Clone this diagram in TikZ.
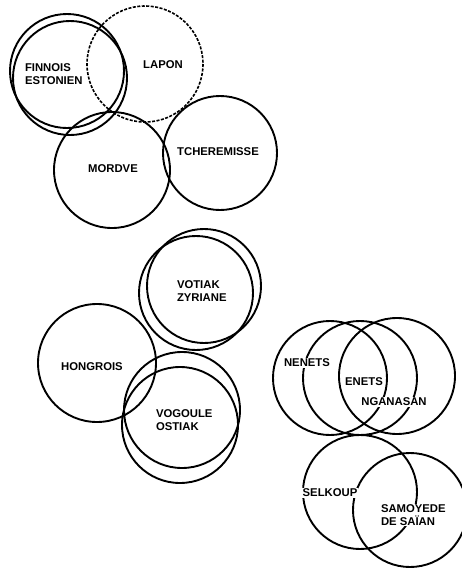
\documentclass[tikz,border=0pt]{standalone}
\usepackage{fontspec}
\setmainfont{Liberation Sans}

\tikzset{
  lang/.style={draw=black, line width=1.9pt},
  langdash/.style={lang, line width=1.6pt, dash pattern=on 3pt off 1.5pt},
  tag/.style={font=\bfseries\fontsize{11.3}{12.5}\selectfont, fill=white, inner sep=0.8pt},
  tagl/.style={tag, align=left, anchor=west},
}

\begin{document}
\begin{tikzpicture}[x=1pt, y=-1pt]
  \useasboundingbox (0, 0) rectangle (462, 568);

  % Finnois, Lapon, Mordve, Tcheremisse
  \draw[lang] (67, 71) circle (57);
  \draw[lang] (70, 78) circle (57);
  \draw[langdash] (145, 64) circle (58);
  \draw[lang] (112, 170) circle (58);
  \draw[lang] (220, 153) circle (57);
  \node[tagl] (finnois) at (24, 74) {FINNOIS\\ESTONIEN};
  \node[tag] (lapon) at (163, 65) {LAPON};
  \node[tag] (mordve) at (113, 169) {MORDVE};
  \node[tag] (tcheremisse) at (218, 152) {TCHEREMISSE};

  % Votiak-Zyriane
  \draw[lang] (196, 293) circle (57);
  \draw[lang] (204, 286) circle (57);
  \node[tagl] (votiak) at (176, 291) {VOTIAK\\ZYRIANE};

  % Hongrois, Vogoule-Ostiak
  \draw[lang] (97, 363) circle (59);
  \draw[lang] (182, 410) circle (58);
  \draw[lang] (180, 425) circle (58);
  \node[tag] (hongrois) at (92, 367) {HONGROIS};
  \node[tagl] (vogoule) at (155, 420) {VOGOULE\\OSTIAK};

  % Samoyede
  \draw[lang] (330, 378) circle (57);
  \draw[lang] (360, 378) circle (57);
  \draw[lang] (397, 376) circle (58);
  \draw[lang] (360, 492) circle (57);
  \draw[lang] (410, 510) circle (57);
  \node[tag] (nenets) at (307, 363) {NENETS};
  \node[tag] (enets) at (364, 382) {ENETS};
  \node[tag] (nganasan) at (394, 402) {NGANASAN};
  \node[tag] (selkoup) at (330, 493) {SELKOUP};
  \node[tagl] (samoyede) at (380, 515) {SAMOYEDE\\DE SAÏAN};
\end{tikzpicture}
\end{document}
